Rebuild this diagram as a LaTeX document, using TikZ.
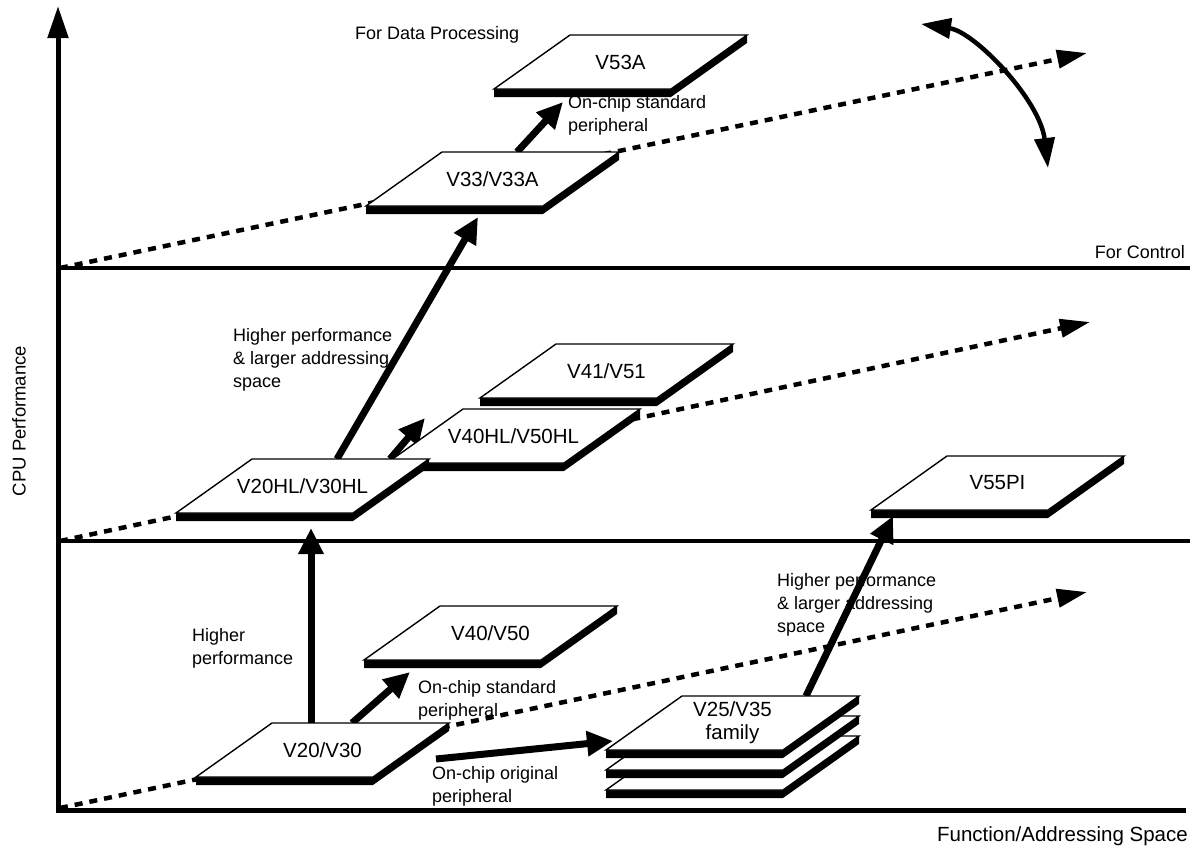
\documentclass[tikz,border=0pt]{standalone}
\usepackage{fontspec}
\setmainfont{Liberation Sans}
\usetikzlibrary{arrows.meta}
\newcommand{\mychip}[4]{%
  \fill[black] (#2,#3) -- ++(177,0) -- ++(0,8) -- ++(-76,54) -- ++(-177,0) -- ++(0,-8) -- cycle;
  \filldraw[face] (#2,#3) -- ++(177,0) -- ++(-76,54) -- ++(-177,0) -- cycle;
  \node[chiptext] (#1) at ({#2+50.5},{#3+27}) {#4};
}
\begin{document}
\begin{tikzpicture}[x=1pt,y=-1pt,
  face/.style={fill=white,draw=black,line width=1.4pt,line join=miter},
  lbl/.style={inner sep=0pt,font=\fontsize{18}{23}\selectfont,align=left},
  chiptext/.style={inner sep=0pt,font=\fontsize{20.5}{23}\selectfont,align=center},
  thickarrow/.style={line width=7pt,-{Triangle[length=26pt,width=24pt]}},
  dasharrow/.style={line width=4.5pt,dash pattern=on 8pt off 7pt,-{Triangle[length=30pt,width=18pt]}},
  rule/.style={line width=4pt},
  axis/.style={line width=5pt}]
\useasboundingbox (0,0) rectangle (1197,855);

% dashed trend lines
\coordinate (d1s) at (60,808);  \coordinate (d1e) at (1087,592);
\coordinate (d2s) at (60,541);  \coordinate (d2e) at (1090,322);
\coordinate (d3s) at (60,268);  \coordinate (d3e) at (1087,53);
\draw[dasharrow] (d1s) -- (d1e);
\draw[dasharrow] (d2s) -- (d2e);
\draw[dasharrow] (d3s) -- (d3e);

% horizontal rules
\coordinate (r1s) at (58,268); \coordinate (r1e) at (1190,268);
\coordinate (r2s) at (58,541); \coordinate (r2e) at (1190,541);
\draw[rule] (r1s) -- (r1e);
\draw[rule] (r2s) -- (r2e);

% axes
\coordinate (o) at (58,810);
\coordinate (ytop) at (58,6);
\coordinate (xend) at (1186,810);
\draw[axis,-{Triangle[length=32pt,width=20pt]}] ([yshift=2.5pt]o) -- (ytop);
\draw[axis] ([xshift=-2.5pt]o) -- (xend);

% curved double arrow
\coordinate (c1) at (921,24); \coordinate (c2) at (1048,168);
\draw[line width=4.5pt,{Triangle[length=30pt,width=20pt]}-{Triangle[length=30pt,width=20pt]}]
  (c1) .. controls (975,32) and (1040,100) .. (c2);

% thick arrows
\coordinate (a1s) at (311,723); \coordinate (a1e) at (311,528);
\coordinate (a2s) at (352,723); \coordinate (a2e) at (410,672);
\coordinate (a3s) at (337,459); \coordinate (a3e) at (478,217);
\coordinate (a4s) at (390,459); \coordinate (a4e) at (425,418);
\coordinate (a5s) at (517,152); \coordinate (a5e) at (563,102);
\coordinate (a6s) at (436,759); \coordinate (a6e) at (613,741);
\coordinate (a7s) at (806,696); \coordinate (a7e) at (893,516);
\foreach \i in {1,...,7} {\draw[thickarrow] (a\i s) -- (a\i e);}

% chips
\mychip{v53}{570}{35}{V53A}
\mychip{v33}{442}{152}{V33/V33A}
\mychip{v41}{556}{344}{V41/V51}
\mychip{v40hl}{463}{409}{V40HL/V50HL}
\mychip{v20hl}{252}{459}{V20HL/V30HL}
\mychip{v55}{947}{456}{V55PI}
\mychip{v40}{440}{606}{V40/V50}
\mychip{v25c}{682}{736}{}
\mychip{v25b}{682}{716}{}
\mychip{v25}{682}{696}{V25/V35\\family}
\mychip{v20}{272}{723}{V20/V30}

% labels
\node[lbl,anchor=west] (l1) at (355,35) {For Data Processing};
\node[lbl,anchor=west] (l2) at (568,115) {On-chip standard\\peripheral};
\node[lbl,anchor=east] (l3) at (1185,252) {For Control};
\node[lbl,anchor=west] (l4) at (233,360) {Higher performance\\\& larger addressing\\space};
\node[lbl,anchor=west] (l5) at (192,648) {Higher\\performance};
\node[lbl,anchor=west] (l6) at (418,700) {On-chip standard\\peripheral};
\node[lbl,anchor=west] (l7) at (432,786) {On-chip original\\peripheral};
\node[lbl,anchor=west] (l8) at (777,605) {Higher performance\\\& larger addressing\\space};
\node[lbl,anchor=east,font=\fontsize{20.5}{23}\selectfont] (l9) at (1188,836) {Function/Addressing Space};
\node[lbl,rotate=90,font=\fontsize{18.5}{23}\selectfont] (l10) at (19,421) {CPU Performance};
\end{tikzpicture}
\end{document}
